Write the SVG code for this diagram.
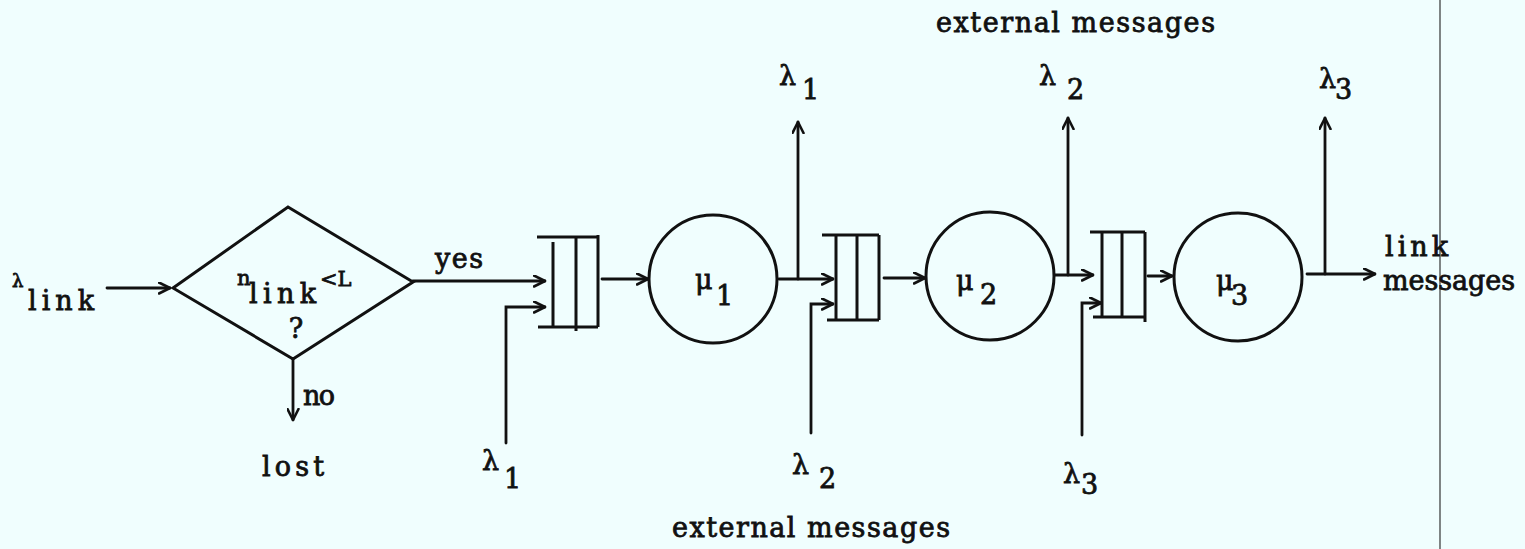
<svg xmlns="http://www.w3.org/2000/svg" width="1525" height="549" viewBox="0 0 1525 549">
<defs>
<style>
.ln{stroke:#111;stroke-width:2.8;fill:none;stroke-linecap:round}
.nd{stroke:#111;stroke-width:3;fill:none}
.q{stroke:#111;stroke-width:3;fill:none}
.t{font-family:"DejaVu Serif","Liberation Serif",serif;font-size:27px;fill:#111;stroke:#111;stroke-width:0.8}
.s{font-size:21px}
</style>
<marker id="ah" viewBox="0 0 13 13" refX="12" refY="6.5" markerWidth="13" markerHeight="13" markerUnits="userSpaceOnUse" orient="auto">
<path d="M1,1 L12,6.5 L1,12" fill="none" stroke="#111" stroke-width="2.6" stroke-linecap="round" stroke-linejoin="round"/>
</marker>
</defs>
<rect width="1525" height="549" fill="#F0FEFE"/>
<line x1="1440" y1="0" x2="1440" y2="549" stroke="#333" stroke-width="1.2"/>

<g id="connectors">
<line class="ln" x1="107" y1="288" x2="170" y2="288" marker-end="url(#ah)"/>
<line class="ln" x1="413" y1="281" x2="545" y2="281" marker-end="url(#ah)"/>
<line class="ln" x1="293" y1="359" x2="293" y2="420" marker-end="url(#ah)"/>
<polyline class="ln" points="506,443 506,307 545,307" marker-end="url(#ah)"/>
<line class="ln" x1="602" y1="279" x2="648" y2="279" marker-end="url(#ah)"/>
<line class="ln" x1="779" y1="279" x2="833" y2="279" marker-end="url(#ah)"/>
<line class="ln" x1="798" y1="279" x2="798" y2="122" marker-end="url(#ah)"/>
<polyline class="ln" points="811,433 811,304 833,304" marker-end="url(#ah)"/>
<line class="ln" x1="884" y1="278" x2="925" y2="278" marker-end="url(#ah)"/>
<line class="ln" x1="1055" y1="275" x2="1093" y2="275" marker-end="url(#ah)"/>
<line class="ln" x1="1068" y1="275" x2="1068" y2="118" marker-end="url(#ah)"/>
<polyline class="ln" points="1082,435 1082,303 1101,303" marker-end="url(#ah)"/>
<line class="ln" x1="1148" y1="276" x2="1172" y2="276" marker-end="url(#ah)"/>
<line class="ln" x1="1307" y1="274" x2="1375" y2="274" marker-end="url(#ah)"/>
<line class="ln" x1="1325" y1="274" x2="1325" y2="118" marker-end="url(#ah)"/>
</g>

<g id="decision">
<polygon class="nd" points="173,288 288,207 413,282 293,359"/>
<text class="t"><tspan class="s" x="237" y="285">n</tspan><tspan x="249" y="303" textLength="67">link</tspan><tspan class="s" x="320" y="286">&lt;L</tspan></text>
<text class="t" x="296" y="338" text-anchor="middle">?</text>
</g>

<g id="queue1">
<line class="q" x1="537" y1="237" x2="598" y2="237"/>
<line class="q" x1="538" y1="327" x2="598" y2="327"/>
<line class="q" x1="553" y1="242" x2="553" y2="327"/>
<line class="q" x1="576" y1="237" x2="576" y2="331"/>
<line class="q" x1="598" y1="235" x2="598" y2="327"/>
</g>
<g id="server1">
<circle class="nd" cx="713" cy="279" r="64"/>
<text class="t"><tspan x="695" y="289">μ</tspan><tspan x="716" y="305">1</tspan></text>
</g>

<g id="queue2">
<line class="q" x1="822" y1="235" x2="879" y2="235"/>
<line class="q" x1="827" y1="320" x2="879" y2="320"/>
<line class="q" x1="836" y1="235" x2="836" y2="320"/>
<line class="q" x1="857" y1="235" x2="857" y2="320"/>
<line class="q" x1="879" y1="235" x2="879" y2="320"/>
</g>
<g id="server2">
<circle class="nd" cx="990" cy="276" r="64"/>
<text class="t"><tspan x="956" y="290">μ</tspan><tspan x="980" y="304">2</tspan></text>
</g>

<g id="queue3">
<line class="q" x1="1090" y1="232" x2="1145" y2="232"/>
<line class="q" x1="1093" y1="317" x2="1145" y2="317"/>
<line class="q" x1="1102" y1="232" x2="1102" y2="318"/>
<line class="q" x1="1122" y1="232" x2="1122" y2="317"/>
<line class="q" x1="1145" y1="232" x2="1145" y2="322"/>
</g>
<g id="server3">
<circle class="nd" cx="1238" cy="277" r="64"/>
<text class="t"><tspan x="1216" y="290">μ</tspan><tspan x="1231" y="305">3</tspan></text>
</g>

<g id="labels">
<text class="t"><tspan x="12" y="287" style="font-size:18px">λ</tspan><tspan x="28" y="310" textLength="66">link</tspan></text>
<text class="t" x="435" y="268" textLength="48">yes</text>
<text class="t" x="303" y="405" textLength="32">no</text>
<text class="t" x="262" y="476" textLength="62">lost</text>
<text class="t" x="936" y="32" textLength="279">external messages</text>
<text class="t" x="672" y="537" textLength="278">external messages</text>
<text class="t"><tspan x="779" y="85">λ</tspan><tspan x="802" y="99">1</tspan></text>
<text class="t"><tspan x="1039" y="85">λ</tspan><tspan x="1067" y="99">2</tspan></text>
<text class="t"><tspan x="1319" y="88">λ</tspan><tspan x="1335" y="99">3</tspan></text>
<text class="t"><tspan x="482" y="470">λ</tspan><tspan x="504" y="488">1</tspan></text>
<text class="t"><tspan x="792" y="474">λ</tspan><tspan x="819" y="488">2</tspan></text>
<text class="t"><tspan x="1063" y="483">λ</tspan><tspan x="1081" y="494">3</tspan></text>
<text class="t" x="1385" y="256" textLength="63">link</text>
<text class="t" x="1383" y="290" textLength="132">messages</text>
</g>
</svg>
